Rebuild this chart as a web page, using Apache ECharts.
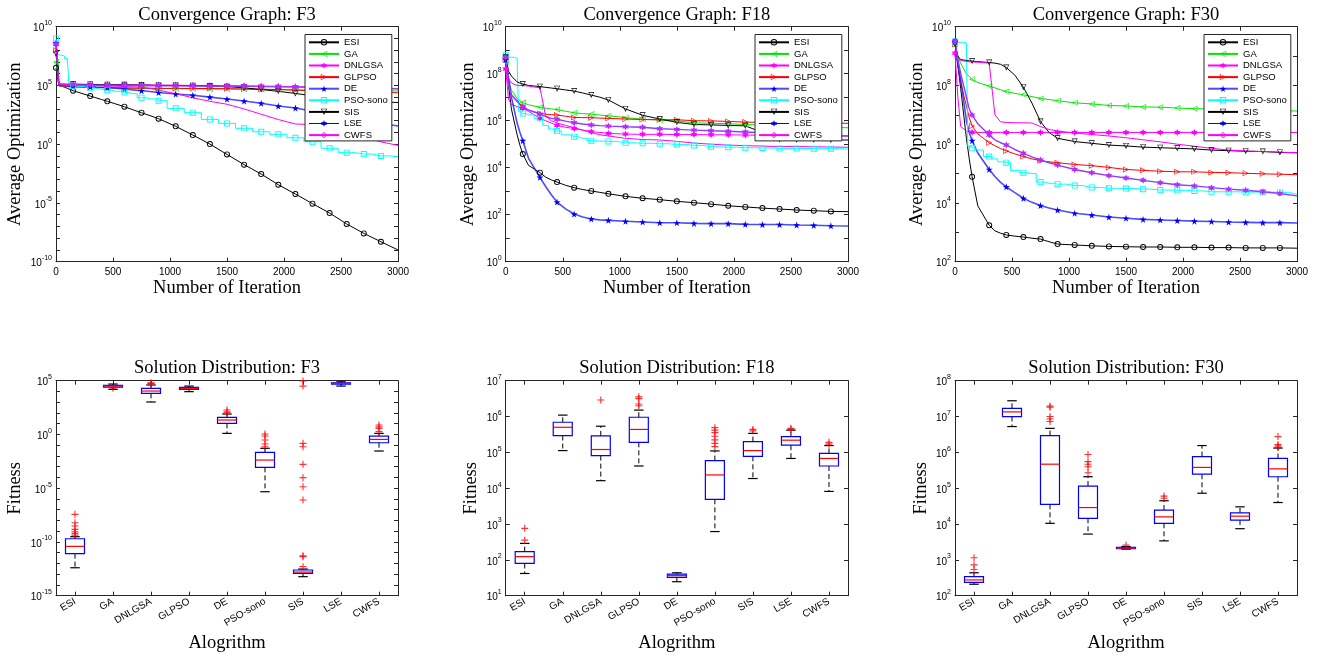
<!DOCTYPE html>
<html>
<head>
<meta charset="utf-8">
<title>Convergence graphs and solution distributions</title>
<script src="https://cdn.jsdelivr.net/npm/echarts@6.0.0/dist/echarts.min.js"></script>
<style>
  html, body { margin: 0; padding: 0; background: #fff; }
  #chart { width: 1320px; height: 657px; }
</style>
</head>
<body>
<div id="chart"></div>
<script>
var algorithms = ['ESI', 'GA', 'DNLGSA', 'GLPSO', 'DE', 'PSO-sono', 'SIS', 'LSE', 'CWFS'];
var iterations = [0, 25, 50, 100, 125, 150, 200, 300, 350, 400, 450, 525, 600, 675, 750, 825, 900,
  1050, 1200, 1350, 1500, 1650, 1800, 1950, 2100, 2250, 2400, 2550, 2700, 2850, 3000];

// convergence curves, log10 of the average optimization at each iteration above
var f3_ESI = [6.5, 5.0, 4.95, 4.75, 4.65, 4.55, 4.4, 4.1, 3.95, 3.8, 3.65, 3.42, 3.19, 2.93, 2.68, 2.43, 2.17,
  1.52, 0.78, 0.01, -0.87, -1.74, -2.54, -3.45, -4.24, -5.06, -5.86, -6.79, -7.59, -8.30, -9.0];
var f3_GA = [7.0, 4.95, 4.9, 4.88, 4.87, 4.85, 4.84, 4.82, 4.81, 4.8, 4.8, 4.79, 4.78, 4.77, 4.76, 4.75, 4.75,
  4.73, 4.72, 4.7, 4.7, 4.68, 4.66, 4.65, 4.63, 4.6, 4.6, 4.58, 4.56, 4.55, 4.53];
var f3_DNLGSA = [8.6, 5.15, 5.12, 5.1, 5.1, 5.1, 5.1, 5.08, 5.08, 5.07, 5.07, 5.06, 5.06, 5.05, 5.05, 5.04, 5.03,
  5.02, 5.0, 5.0, 4.98, 4.97, 4.95, 4.93, 4.9, 4.88, 4.85, 4.82, 4.8, 4.76, 4.72];
var f3_GLPSO = [8.0, 5.0, 4.95, 4.92, 4.9, 4.9, 4.88, 4.85, 4.83, 4.82, 4.8, 4.8, 4.78, 4.77, 4.76, 4.76, 4.75,
  4.75, 4.74, 4.74, 4.72, 4.7, 4.68, 4.65, 4.6, 4.55, 4.52, 4.48, 4.45, 4.42, 4.38];
var f3_DE = [8.6, 5.05, 5.0, 4.97, 4.96, 4.95, 4.93, 4.9, 4.87, 4.85, 4.82, 4.76, 4.7, 4.62, 4.55, 4.48, 4.4,
  4.27, 4.16, 4.01, 3.84, 3.67, 3.48, 3.25, 3.08, 2.8, 2.5, 2.25, 2.0, 1.78, 1.55];
var f3_PSOsono = [9.0, 7.6, 7.5, 7.3, 5.2, 4.95, 4.9, 4.8, 4.75, 4.65, 4.6, 4.5, 4.4, 4.3, 3.96, 3.85, 3.7,
  3.05, 2.68, 2.11, 1.77, 1.35, 1.06, 0.84, 0.55, 0.21, -0.35, -0.72, -0.84, -1.0, -1.06];
var f3_SIS = [7.7, 5.1, 5.1, 5.1, 5.1, 5.1, 5.1, 5.08, 5.07, 5.07, 5.06, 5.05, 5.05, 5.04, 5.03, 5.02, 5.0,
  5.0, 4.98, 4.95, 4.9, 4.8, 4.65, 4.5, 4.32, 4.12, 3.95, 3.8, 3.68, 3.6, 3.55];
var f3_LSE = [8.5, 5.1, 5.08, 5.06, 5.05, 5.05, 5.05, 5.04, 5.03, 5.02, 5.02, 5.01, 5.0, 5.0, 4.98, 4.98, 4.97,
  4.96, 4.95, 4.94, 4.93, 4.92, 4.9, 4.88, 4.86, 4.84, 4.82, 4.8, 4.78, 4.75, 4.72];
var f3_CWFS = [8.3, 5.1, 5.08, 5.05, 5.05, 5.05, 5.03, 5.0, 4.98, 4.97, 4.95, 4.93, 4.9, 4.88, 4.85, 4.75, 4.6,
  4.3, 3.95, 3.65, 3.4, 3.0, 2.55, 2.1, 1.72, 1.67, 1.6, 1.2, 0.6, 0.2, -0.1];

var f18_ESI = [8.7, 7.5, 6.5, 5.4, 4.95, 4.58, 4.1, 3.79, 3.6, 3.48, 3.39, 3.25, 3.15, 3.07, 3.01, 2.95, 2.89,
  2.78, 2.70, 2.64, 2.57, 2.51, 2.45, 2.38, 2.33, 2.28, 2.24, 2.20, 2.17, 2.14, 2.13];
var f18_GA = [8.5, 7.7, 7.3, 6.95, 6.85, 6.77, 6.68, 6.57, 6.53, 6.5, 6.48, 6.4, 6.34, 6.3, 6.28, 6.24, 6.21,
  6.13, 6.06, 6.03, 5.99, 5.91, 5.89, 5.87, 5.84, 5.81, 5.79, 5.77, 5.75, 5.72, 5.7];
var f18_DNLGSA = [8.2, 6.9, 6.7, 6.6, 6.55, 6.52, 6.4, 6.1, 6.0, 5.9, 5.8, 5.72, 5.67, 5.6, 5.53, 5.5, 5.46,
  5.43, 5.42, 5.42, 5.41, 5.41, 5.4, 5.4, 5.39, 5.38, 5.38, 5.37, 5.37, 5.36, 5.35];
var f18_GLPSO = [8.6, 7.5, 7.1, 6.8, 6.7, 6.6, 6.45, 6.31, 6.28, 6.26, 6.24, 6.19, 6.14, 6.13, 6.13, 6.11, 6.10,
  6.07, 6.05, 6.04, 6.04, 6.0, 5.99, 5.97, 5.94, 5.93, 5.92, 5.91, 5.9, 5.9, 5.89];
var f18_DE = [8.6, 7.8, 7.0, 5.9, 5.5, 5.15, 4.4, 3.59, 3.2, 2.85, 2.54, 2.25, 2.03, 1.9, 1.82, 1.78, 1.76,
  1.72, 1.69, 1.66, 1.66, 1.63, 1.62, 1.62, 1.59, 1.58, 1.58, 1.56, 1.55, 1.53, 1.52];
var f18_PSOsono = [8.8, 8.7, 8.7, 8.65, 6.4, 6.31, 6.25, 6.1, 5.8, 5.65, 5.56, 5.4, 5.32, 5.25, 5.15, 5.13, 5.12,
  5.06, 5.04, 5.02, 4.99, 4.95, 4.89, 4.87, 4.85, 4.84, 4.82, 4.82, 4.81, 4.81, 4.79];
var f18_SIS = [8.7, 8.1, 7.9, 7.65, 7.6, 7.56, 7.5, 7.45, 7.42, 7.39, 7.36, 7.31, 7.26, 7.18, 7.09, 7.0, 6.88,
  6.5, 6.23, 6.07, 5.93, 5.84, 5.82, 5.8, 5.78, 5.5, 5.2, 5.19, 5.19, 5.18, 5.18];
var f18_LSE = [8.7, 7.5, 7.1, 6.85, 6.7, 6.6, 6.45, 6.28, 6.18, 6.1, 6.06, 5.98, 5.91, 5.86, 5.82, 5.79, 5.77,
  5.74, 5.72, 5.66, 5.63, 5.6, 5.57, 5.55, 5.52, 5.49, 5.46, 5.43, 5.4, 5.37, 5.35];
var f18_CWFS = [8.2, 7.8, 7.6, 7.5, 7.5, 7.5, 7.47, 7.4, 6.2, 6.0, 5.9, 5.8, 5.7, 5.6, 5.5, 5.4, 5.35,
  5.25, 5.2, 5.18, 5.12, 5.05, 5.0, 4.96, 4.94, 4.92, 4.9, 4.9, 4.89, 4.88, 4.87];

var f30_ESI = [9.5, 8.7, 7.9, 6.2, 5.5, 4.89, 3.9, 3.24, 3.05, 2.97, 2.91, 2.87, 2.84, 2.8, 2.77, 2.68, 2.60,
  2.57, 2.54, 2.52, 2.51, 2.5, 2.5, 2.49, 2.49, 2.48, 2.48, 2.47, 2.47, 2.47, 2.46];
var f30_GA = [9.4, 9.0, 8.75, 8.4, 8.3, 8.21, 8.1, 7.98, 7.92, 7.85, 7.79, 7.73, 7.68, 7.62, 7.56, 7.52, 7.48,
  7.41, 7.37, 7.32, 7.30, 7.27, 7.26, 7.23, 7.21, 7.2, 7.18, 7.17, 7.15, 7.14, 7.13];
var f30_DNLGSA = [9.1, 7.6, 6.6, 6.45, 6.42, 6.41, 6.4, 6.4, 6.4, 6.4, 6.4, 6.4, 6.4, 6.4, 6.4, 6.4, 6.4,
  6.4, 6.4, 6.4, 6.4, 6.4, 6.4, 6.4, 6.4, 6.4, 6.4, 6.4, 6.4, 6.4, 6.4];
var f30_GLPSO = [9.4, 8.7, 8.1, 7.3, 6.9, 6.62, 6.35, 6.05, 5.95, 5.85, 5.77, 5.67, 5.58, 5.5, 5.44, 5.4, 5.37,
  5.31, 5.27, 5.21, 5.14, 5.11, 5.08, 5.06, 5.06, 5.04, 5.03, 5.01, 4.99, 4.98, 4.96];
var f30_DE = [9.5, 8.7, 8.2, 6.8, 6.4, 6.12, 5.7, 5.14, 4.9, 4.7, 4.55, 4.35, 4.16, 4.02, 3.91, 3.83, 3.76,
  3.65, 3.59, 3.52, 3.48, 3.44, 3.42, 3.40, 3.38, 3.37, 3.35, 3.34, 3.33, 3.33, 3.32];
var f30_PSOsono = [9.5, 9.47, 9.47, 9.45, 5.92, 5.86, 5.8, 5.58, 5.5, 5.4, 5.37, 5.1, 5.03, 5.0, 4.71, 4.67, 4.64,
  4.59, 4.53, 4.50, 4.49, 4.47, 4.44, 4.43, 4.41, 4.38, 4.38, 4.37, 4.37, 4.36, 4.3];
var f30_SIS = [9.4, 9.0, 8.88, 8.85, 8.84, 8.83, 8.81, 8.78, 8.76, 8.72, 8.61, 8.35, 7.94, 7.4, 6.77, 6.4, 6.2,
  6.09, 6.03, 5.97, 5.94, 5.90, 5.88, 5.86, 5.84, 5.80, 5.78, 5.76, 5.75, 5.72, 5.71];
var f30_LSE = [9.5, 8.9, 8.4, 7.6, 7.2, 6.99, 6.7, 6.31, 6.15, 6.05, 5.97, 5.82, 5.69, 5.57, 5.46, 5.37, 5.29,
  5.14, 5.03, 4.93, 4.85, 4.77, 4.69, 4.62, 4.58, 4.52, 4.47, 4.43, 4.38, 4.32, 4.24];
var f30_CWFS = [9.0, 8.9, 8.85, 8.82, 8.8, 8.8, 8.79, 8.76, 7.0, 6.76, 6.74, 6.73, 6.73, 6.72, 6.6, 6.5, 6.45,
  6.38, 6.33, 6.28, 6.22, 6.15, 6.08, 6.0, 5.93, 5.86, 5.8, 5.77, 5.75, 5.73, 5.71];

// box plots, log10 of fitness, one value per algorithm
var f3BoxLow  = [-12.40, 4.19, 3.02, 3.98, 0.10, -5.33, -13.23, 4.50, -1.54];
var f3BoxQ1   = [-11.09, 4.41, 3.82, 4.19, 1.03, -3.06, -12.92, 4.69, -0.77];
var f3BoxMed  = [-10.41, 4.50, 4.04, 4.29, 1.34, -2.38, -12.80, 4.75, -0.46];
var f3BoxQ3   = [-9.70, 4.57, 4.29, 4.38, 1.59, -1.67, -12.61, 4.81, -0.15];
var f3BoxHigh = [-9.51, 4.69, 4.60, 4.50, 1.90, -1.29, -12.52, 4.90, 0.10];
var f3Outliers = [['ESI', -7.43], ['ESI', -8.21], ['ESI', -8.52], ['ESI', -8.83], ['ESI', -9.05], ['ESI', -9.20], ['ESI', -9.36],
  ['GA', 4.3], ['DNLGSA', 4.72], ['DNLGSA', 4.8], ['DNLGSA', 4.76], ['DE', 2.27], ['DE', 2.1], ['DE', 2.02],
  ['PSO-sono', 0.04], ['PSO-sono', -0.15], ['PSO-sono', -0.52], ['PSO-sono', -0.89], ['PSO-sono', -1.14],
  ['SIS', 4.98], ['SIS', 4.5], ['SIS', -0.83], ['SIS', -1.14], ['SIS', -2.78], ['SIS', -4.02], ['SIS', -4.86],
  ['SIS', -6.1], ['SIS', -11.28], ['SIS', -11.37], ['SIS', -12.30],
  ['CWFS', 0.88], ['CWFS', 0.7], ['CWFS', 0.57], ['CWFS', 0.26]];

var f18BoxLow  = [1.62, 5.05, 4.21, 4.62, 1.39, 2.79, 4.27, 4.83, 3.91];
var f18BoxQ1   = [1.90, 5.47, 4.91, 5.28, 1.51, 3.69, 4.89, 5.20, 4.62];
var f18BoxMed  = [2.09, 5.70, 5.08, 5.64, 1.56, 4.37, 5.05, 5.34, 4.83];
var f18BoxQ3   = [2.23, 5.84, 5.46, 5.98, 1.60, 4.77, 5.30, 5.44, 4.97];
var f18BoxHigh = [2.46, 6.04, 5.73, 6.18, 1.64, 5.04, 5.53, 5.62, 5.19];
var f18Outliers = [['ESI', 2.88], ['ESI', 2.55], ['DNLGSA', 6.46],
  ['GLPSO', 6.55], ['GLPSO', 6.5], ['GLPSO', 6.35], ['GLPSO', 6.3],
  ['PSO-sono', 5.69], ['PSO-sono', 5.62], ['PSO-sono', 5.55], ['PSO-sono', 5.45], ['PSO-sono', 5.35], ['PSO-sono', 5.25], ['PSO-sono', 5.16],
  ['SIS', 5.64], ['SIS', 5.6], ['LSE', 5.67], ['LSE', 5.64], ['CWFS', 5.28], ['CWFS', 5.23]];

var f30BoxLow  = [2.32, 6.72, 4.02, 3.72, 3.30, 3.53, 4.86, 3.87, 4.60];
var f30BoxQ1   = [2.37, 7.00, 4.55, 4.16, 3.31, 4.02, 5.39, 4.11, 5.32];
var f30BoxMed  = [2.44, 7.13, 5.67, 4.46, 3.33, 4.20, 5.58, 4.22, 5.54];
var f30BoxQ3   = [2.53, 7.23, 6.47, 5.06, 3.35, 4.39, 5.88, 4.31, 5.83];
var f30BoxHigh = [2.64, 7.44, 6.67, 5.32, 3.37, 4.65, 6.19, 4.48, 6.12];
var f30Outliers = [['ESI', 3.06], ['ESI', 2.86], ['ESI', 2.73],
  ['DNLGSA', 7.29], ['DNLGSA', 7.26], ['DNLGSA', 7.0], ['DNLGSA', 6.93], ['DNLGSA', 6.86],
  ['GLPSO', 5.94], ['GLPSO', 5.74], ['GLPSO', 5.67], ['GLPSO', 5.6], ['GLPSO', 5.43],
  ['DE', 3.41], ['PSO-sono', 4.78], ['PSO-sono', 4.72],
  ['CWFS', 6.44], ['CWFS', 6.22], ['CWFS', 6.18], ['CWFS', 6.14]];

var SANS = 'Liberation Sans, Arial, Helvetica, sans-serif';
var SERIF = 'Liberation Serif, Times New Roman, serif';
var INK = '#262626';
// hollow markers as outline paths so the inside stays transparent
var RING = 'path://M50,0A50,50 0 1,1 50,100A50,50 0 1,1 50,0ZM50,15A35,35 0 1,0 50,85A35,35 0 1,0 50,15Z';
var TRI = 'path://M50,0L100,100L0,100ZM50,26L14,90L86,90Z';
var SQUARE = 'path://M0,0H100V100H0ZM15,15V85H85V15Z';
var DIAMOND = 'path://M50,0L100,50L50,100L0,50ZM50,18L18,50L50,82L82,50Z';
var STAR5 = 'path://M50,0L61,35L98,35L68,57L79,91L50,70L21,91L32,57L2,35L39,35Z';
var STAR6 = 'path://M50,0L62,29L93,25L74,50L93,75L62,71L50,100L38,71L7,75L26,50L7,25L38,29Z';
var PLUS = 'path://M42,0H58V42H100V58H58V100H42V58H0V42H42Z';

var styles = {
  'ESI':      { color: '#000000', symbol: RING, rotate: 0, width: 1, size: 6 },
  'GA':       { color: '#00e600', symbol: TRI, rotate: 90, width: 1, size: 6 },
  'DNLGSA':   { color: '#ff00ff', symbol: STAR6, rotate: 0, width: 1, size: 7 },
  'GLPSO':    { color: '#ff0000', symbol: TRI, rotate: -90, width: 1, size: 6 },
  'DE':       { color: 'rgba(30,30,255,0.8)', marker: '#0000ff', symbol: STAR5, rotate: 0, width: 1.6, size: 7 },
  'PSO-sono': { color: '#00ffff', symbol: SQUARE, rotate: 0, width: 1, size: 6, step: 'middle' },
  'SIS':      { color: '#000000', symbol: TRI, rotate: 180, width: 1, size: 6 },
  'LSE':      { color: '#8f3cff', marker: '#b02cff', symbol: STAR6, rotate: 0, width: 1.4, size: 7 },
  'CWFS':     { color: '#ff00ff', symbol: DIAMOND, rotate: 0, width: 1, size: 6, hideMarkers: true }
};

var topPanels = [
  { fn: 'F3', left: 56, width: 342, minExp: -10, maxExp: 10, step: 5, legendLeft: 305, yName: 15,
    lines: [f3_ESI, f3_GA, f3_DNLGSA, f3_GLPSO, f3_DE, f3_PSOsono, f3_SIS, f3_LSE, f3_CWFS] },
  { fn: 'F18', left: 505.7, width: 342.3, minExp: 0, maxExp: 10, step: 2, legendLeft: 755, yName: 468.5,
    lines: [f18_ESI, f18_GA, f18_DNLGSA, f18_GLPSO, f18_DE, f18_PSOsono, f18_SIS, f18_LSE, f18_CWFS] },
  { fn: 'F30', left: 955, width: 342, minExp: 2, maxExp: 10, step: 2, legendLeft: 1204, yName: 917.5,
    lines: [f30_ESI, f30_GA, f30_DNLGSA, f30_GLPSO, f30_DE, f30_PSOsono, f30_SIS, f30_LSE, f30_CWFS] }
];
var bottomPanels = [
  { fn: 'F3', left: 56, width: 342, minExp: -15, maxExp: 5, step: 5, yName: 15,
    box: [f3BoxLow, f3BoxQ1, f3BoxMed, f3BoxQ3, f3BoxHigh], outliers: f3Outliers },
  { fn: 'F18', left: 505.7, width: 342.3, minExp: 1, maxExp: 7, step: 1, yName: 471.5,
    box: [f18BoxLow, f18BoxQ1, f18BoxMed, f18BoxQ3, f18BoxHigh], outliers: f18Outliers },
  { fn: 'F30', left: 955, width: 342, minExp: 2, maxExp: 8, step: 1, yName: 921.5,
    box: [f30BoxLow, f30BoxQ1, f30BoxMed, f30BoxQ3, f30BoxHigh], outliers: f30Outliers }
];
var TOP_Y = 26.7, TOP_H = 235, BOT_Y = 380.7, BOT_H = 215;

function pow10(e) { return Math.pow(10, e); }

function powerLabel(minExp) {
  return function (value) {
    var e = value > 0 ? Math.round(Math.log(value) / Math.LN10) : minExp;
    return '{b|10}{e|' + e + '}';
  };
}

var tickStyle = { show: true, inside: true, length: 4, lineStyle: { color: INK, width: 1 } };
var xLine = { show: true, onZero: false, lineStyle: { color: INK, width: 1 } };
var yLine = { show: true, onZero: false, lineStyle: { color: INK, width: 1 } };
var noSplit = { show: false };

var grids = [], xAxes = [], yAxes = [], series = [], legends = [], texts = [];

function addYAxes(g, p) {
  yAxes.push({
    type: 'log', logBase: 10, gridIndex: g, position: 'left',
    min: Number('1e' + p.minExp), max: Number('1e' + p.maxExp), interval: p.step,
    axisLine: yLine, axisTick: { show: false }, splitLine: noSplit,
    axisLabel: {
      formatter: powerLabel(p.minExp), margin: 4, color: '#000',
      rich: {
        b: { fontSize: 10, fontFamily: SANS, color: '#000', lineHeight: 14, verticalAlign: 'bottom' },
        e: { fontSize: 7, fontFamily: SANS, color: '#000', lineHeight: 8, verticalAlign: 'top' }
      }
    }
  });
  // decade ticks on the left and right borders
  ['left', 'right'].forEach(function (pos) {
    yAxes.push({
      type: 'value', gridIndex: g, position: pos, min: p.minExp, max: p.maxExp, interval: 1,
      axisLine: yLine, axisTick: tickStyle, axisLabel: { show: false }, splitLine: noSplit
    });
  });
}

topPanels.forEach(function (p, k) {
  var g = k;
  grids.push({ left: p.left, top: TOP_Y, width: p.width, height: TOP_H, containLabel: false });
  ['bottom', 'top'].forEach(function (pos) {
    xAxes.push({
      type: 'value', gridIndex: g, position: pos, min: 0, max: 3000, interval: 500,
      axisLine: xLine, axisTick: tickStyle, splitLine: noSplit,
      axisLabel: { show: pos === 'bottom', fontSize: 10, fontFamily: SANS, color: '#000', margin: 6,
        formatter: function (v) { return String(v); } }
    });
  });
  addYAxes(g, p);

  algorithms.forEach(function (name, a) {
    var st = styles[name];
    var logs = p.lines[a];
    series.push({
      name: name, type: 'line', xAxisIndex: 2 * g, yAxisIndex: 3 * g,
      data: iterations.map(function (it, i) { return [it, pow10(logs[i])]; }),
      step: st.step || false,
      symbol: st.symbol, symbolRotate: st.rotate,
      showSymbol: !st.hideMarkers,
      symbolSize: function (v) { return (v[0] % 150 === 0 && v[0] < 3000) ? st.size : 0; },
      lineStyle: { color: st.color, width: st.width },
      itemStyle: { color: st.marker || st.color, borderWidth: 0 },
      emphasis: { disabled: true }, silent: true, z: 2
    });
  });

  legends.push({
    left: p.legendLeft, top: 34.5, orient: 'vertical', selectedMode: false,
    data: algorithms.map(function (name) {
      if (name === 'LSE') {
        return { name: name, itemStyle: { color: '#0000cc' }, lineStyle: { color: '#0000ff', width: 1 } };
      }
      return { name: name };
    }),
    itemWidth: 30, itemHeight: 8, itemGap: 0, padding: [2, 4, 0, 3],
    symbolRotate: 'inherit',
    backgroundColor: '#fff', borderColor: INK, borderWidth: 1, borderRadius: 0,
    textStyle: { fontFamily: SANS, fontSize: 9.5, lineHeight: 11.6, color: '#000' }
  });

  var cx = p.left + p.width / 2;
  texts.push({ x: cx, y: 15, text: 'Convergence Graph: ' + p.fn });
  texts.push({ x: cx, y: 288.5, text: 'Number of Iteration' });
  texts.push({ x: p.yName, y: TOP_Y + TOP_H / 2, text: 'Average Optimization', rotation: Math.PI / 2 });
});

function renderBox(params, api) {
  var c = api.value(0);
  var lo = api.coord([c, api.value(1)]);
  var q1 = api.coord([c, api.value(2)]);
  var md = api.coord([c, api.value(3)]);
  var q3 = api.coord([c, api.value(4)]);
  var hi = api.coord([c, api.value(5)]);
  var band = api.size([1, 0])[0];
  var x = lo[0], bw = band * 0.5, cap = bw * 0.5;
  var dashed = { stroke: '#000', lineWidth: 1, lineDash: [5, 3] };
  var solid = { stroke: '#000', lineWidth: 1.2 };
  return {
    type: 'group',
    children: [
      { type: 'line', shape: { x1: x, y1: q3[1], x2: x, y2: hi[1] }, style: dashed },
      { type: 'line', shape: { x1: x, y1: q1[1], x2: x, y2: lo[1] }, style: dashed },
      { type: 'line', shape: { x1: x - cap / 2, y1: hi[1], x2: x + cap / 2, y2: hi[1] }, style: solid },
      { type: 'line', shape: { x1: x - cap / 2, y1: lo[1], x2: x + cap / 2, y2: lo[1] }, style: solid },
      { type: 'rect', shape: { x: x - bw / 2, y: q3[1], width: bw, height: Math.max(q1[1] - q3[1], 1) },
        style: { fill: 'none', stroke: '#0000ff', lineWidth: 1.2 } },
      { type: 'line', shape: { x1: x - bw / 2, y1: md[1], x2: x + bw / 2, y2: md[1] },
        style: { stroke: '#ff0000', lineWidth: 1.2 } }
    ]
  };
}

bottomPanels.forEach(function (p, k) {
  var g = 3 + k;
  grids.push({ left: p.left, top: BOT_Y, width: p.width, height: BOT_H, containLabel: false });
  ['bottom', 'top'].forEach(function (pos) {
    xAxes.push({
      type: 'category', gridIndex: g, position: pos, data: algorithms, boundaryGap: true,
      axisLine: xLine, axisTick: { show: true, inside: true, length: 4, alignWithLabel: true, lineStyle: { color: INK } },
      splitLine: noSplit,
      axisLabel: { show: pos === 'bottom', interval: 0, rotate: 30, fontSize: 10, fontFamily: SANS, color: '#000', margin: 5 }
    });
  });
  addYAxes(g, p);

  series.push({
    type: 'custom', xAxisIndex: 2 * g, yAxisIndex: 3 * g, silent: true, z: 3,
    encode: { x: 0, y: [1, 2, 3, 4, 5] },
    data: algorithms.map(function (name, a) {
      return [a, pow10(p.box[0][a]), pow10(p.box[1][a]), pow10(p.box[2][a]), pow10(p.box[3][a]), pow10(p.box[4][a])];
    }),
    renderItem: renderBox
  });
  series.push({
    type: 'scatter', xAxisIndex: 2 * g, yAxisIndex: 3 * g, silent: true, z: 4,
    symbol: PLUS, symbolSize: 7, itemStyle: { color: '#ff0000' },
    data: p.outliers.map(function (o) { return [algorithms.indexOf(o[0]), pow10(o[1])]; })
  });

  var cx = p.left + p.width / 2;
  texts.push({ x: cx, y: 368, text: 'Solution Distribution: ' + p.fn });
  texts.push({ x: cx, y: 643, text: 'Alogrithm' });
  texts.push({ x: p.yName, y: BOT_Y + BOT_H / 2, text: 'Fitness', rotation: Math.PI / 2 });
});

var chart = echarts.init(document.getElementById('chart'), null, { renderer: 'canvas' });
chart.setOption({
  animation: false,
  backgroundColor: '#ffffff',
  grid: grids,
  xAxis: xAxes,
  yAxis: yAxes,
  legend: legends,
  series: series,
  graphic: texts.map(function (t) {
    return {
      type: 'text', x: t.x, y: t.y, rotation: t.rotation || 0, silent: true,
      style: { text: t.text, fontFamily: SERIF, fontSize: 18.5, fill: '#000', align: 'center', verticalAlign: 'middle' }
    };
  })
});
</script>
</body>
</html>
